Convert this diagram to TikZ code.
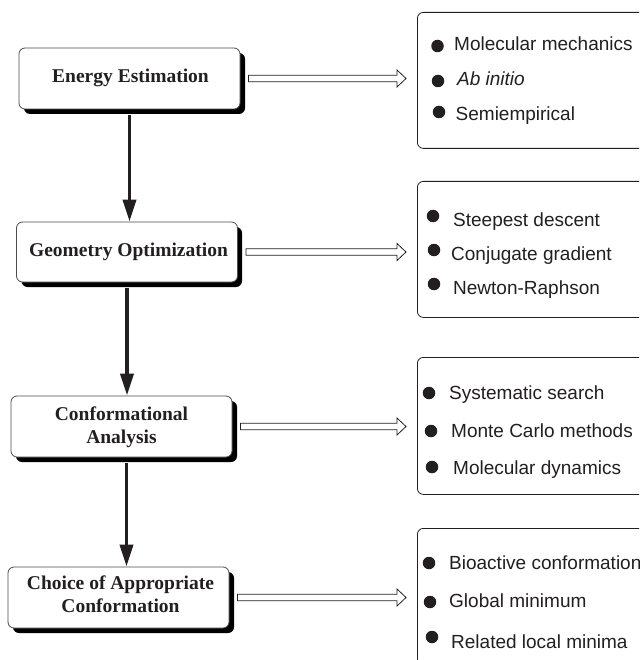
\documentclass[tikz,border=0pt]{standalone}
\usepackage{fontspec}
\setmainfont{Liberation Serif}
\newfontfamily\arialf{Liberation Sans}
\usetikzlibrary{arrows.meta,calc}
\definecolor{ink}{HTML}{231F20}
\begin{document}
\begin{tikzpicture}[x=1pt,y=-1pt,
  stagebox/.style={draw=black!70, line width=0.8pt, fill=white, rounded corners=6pt,
    minimum width=221pt, minimum height=61pt, inner sep=0pt},
  shadowfill/.style={fill=black, rounded corners=6pt},
  stagetext/.style={font=\bfseries\fontsize{19.5}{23}\selectfont, text=ink, align=center, inner sep=0pt},
  listbox/.style={draw=ink, line width=0.8pt, rounded corners=6pt, anchor=north west,
    minimum width=262pt, minimum height=136pt, inner sep=0pt},
  bul/.style={circle, fill=ink, inner sep=0pt, minimum size=12.5pt},
  item/.style={font=\arialf\fontsize{19}{23}\selectfont, text=ink, anchor=base west, inner sep=0pt},
  downarr/.style={draw=ink, line width=3.8pt, -{Triangle[length=22pt,width=13pt]}, shorten <=6pt},
  hollowarr/.style={draw=ink, line width=0.8pt, fill=white, line join=miter}
]
\clip (0,0) rectangle (639,660);
\fill[white] (0,0) rectangle (639,660);

% shadows of the stage boxes
\fill[shadowfill] (24,53) rectangle (245,114);
\fill[shadowfill] (21.5,227) rectangle (242,287);
\fill[shadowfill] (16,401) rectangle (237,462);
\fill[shadowfill] (13,572) rectangle (234,633);

% left stage boxes
\node[stagebox] (b1) at (129.5,78.5) {};
\node[stagebox, minimum height=60pt] (b2) at (127,252) {};
\node[stagebox] (b3) at (121.5,426.5) {};
\node[stagebox] (b4) at (118.5,597.5) {};
\node[stagetext] (t1) at (130.5,77.5) {Energy Estimation};
\node[stagetext] (t2) at (128.5,251.5) {Geometry Optimization};
\node[stagetext] (t3) at (121.5,427) {Conformational\\Analysis};
\node[stagetext] (t4) at (120.5,594) {Choice of Appropriate\\Conformation};

% vertical arrows
\draw[downarr] (b1.south) -- (b1.south |- b2.north);
\draw[downarr] (b2.south) -- (b2.south |- b3.north);
\draw[downarr] ([xshift=5pt]b3.south) -- ([xshift=5pt]b3.south |- b4.north);

% right list boxes
\node[listbox] (r1) at (417,12) {};
\node[listbox] (r2) at (417,181) {};
\node[listbox, minimum height=137pt] (r3) at (417,357) {};
\node[listbox] (r4) at (417,528) {};

% hollow arrows
\newcommand\hollowarrow[2]{%
  \coordinate (hs) at ([xshift=8pt]#1.east);
  \coordinate (he) at ([xshift=-11pt]#2.west |- hs);
  \draw[hollowarr] ($(hs)+(0,-3.3)$) -- ($(he)+(-9,-3.3)$) -- ($(he)+(-9,-8.5)$) -- (he)
    -- ($(he)+(-9,8.5)$) -- ($(he)+(-9,3.3)$) -- ($(hs)+(0,3.3)$) -- cycle;}
\hollowarrow{b1}{r1}
\hollowarrow{b2}{r2}
\hollowarrow{b3}{r3}
\hollowarrow{b4}{r4}

% list 1
\node[bul] (r1b1) at (437.5,46) {};
\node[bul] (r1b2) at (438,81) {};
\node[bul] (r1b3) at (439,112) {};
\node[item] (r1t1) at (454,50.5) {Molecular mechanics};
\node[item] (r1t2) at (457,85.5) {\itshape Ab initio};
\node[item] (r1t3) at (455.5,120.5) {Semiempirical};

% list 2
\node[bul] (r2b1) at (433,216) {};
\node[bul] (r2b2) at (434,250) {};
\node[bul] (r2b3) at (434,284) {};
\node[item] (r2t1) at (453,226) {Steepest descent};
\node[item] (r2t2) at (451,260) {Conjugate gradient};
\node[item] (r2t3) at (453,294) {Newton-Raphson};

% list 3
\node[bul] (r3b1) at (429,393) {};
\node[bul] (r3b2) at (431,431) {};
\node[bul] (r3b3) at (432,467) {};
\node[item] (r3t1) at (449,399) {Systematic search};
\node[item] (r3t2) at (451,437) {Monte Carlo methods};
\node[item] (r3t3) at (453,474) {Molecular dynamics};

% list 4
\node[bul] (r4b1) at (429,563) {};
\node[bul] (r4b2) at (430,602) {};
\node[bul] (r4b3) at (432,637) {};
\node[item] (r4t1) at (449,569) {Bioactive conformation};
\node[item] (r4t2) at (449,607) {Global minimum};
\node[item] (r4t3) at (451,648) {Related local minima};
\end{tikzpicture}
\end{document}
